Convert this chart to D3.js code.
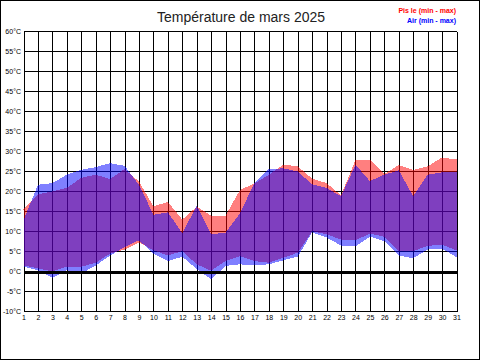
<!DOCTYPE html>
<html><head><meta charset="utf-8">
<script src="https://cdn.jsdelivr.net/npm/d3@7/dist/d3.min.js"></script>
<style>body{margin:0;background:#fff}svg{display:block}</style>
</head><body><svg id="c" width="480" height="360"></svg>
<script>
const days = d3.range(1, 32);
const poolMax = [15.5,19.3,20.0,20.9,23.4,24.2,23.1,25.6,22.5,16.3,17.4,13.0,16.2,14.0,14.0,20.4,22.0,24.2,26.7,26.3,23.2,22.1,19.0,27.9,27.9,24.4,26.6,25.4,26.3,28.5,28.0];
const poolMin = [1.5,0.8,0.0,1.2,1.2,2.2,4.5,5.5,7.3,5.3,4.0,5.1,1.8,0.2,2.6,3.8,2.6,2.2,3.4,4.7,10.1,9.3,8.0,7.8,9.5,8.7,5.1,5.1,6.4,6.7,5.3];
const airMax = [12.8,21.7,22.1,24.2,25.4,26.1,27.1,26.4,21.7,14.2,14.8,9.6,16.4,9.3,9.7,14.5,22.2,25.6,25.8,25.0,21.8,20.9,18.8,26.7,22.6,24.2,25.3,18.8,24.2,24.8,25.0];
const airMin = [1.2,0.3,-1.6,0.3,-0.5,1.5,4.0,6.1,7.8,4.5,2.6,3.7,0.6,-1.9,1.4,1.8,1.5,1.8,2.8,3.7,9.8,8.5,6.5,6.3,8.7,7.6,4.0,3.3,5.5,5.7,3.6];
const yTicks = d3.range(-10, 61, 5);
const titleText = "Température de mars 2025";
const legendLabels = ["Pis le (min - max)", "Air (min - max)"];
const legendColors = ["#ff0000", "#0000ff"];

const svg = d3.select("#c");
const x = d3.scaleLinear().domain([1, 31]).range([23.5, 456.5]);
const y = d3.scaleLinear().domain([-10, 60]).range([311.5, 31.5]);

svg.append("rect").attr("x",0.5).attr("y",0.5).attr("width",479).attr("height",359)
  .attr("fill","#fff").attr("stroke","#000");

// grid
const g = svg.append("g").attr("shape-rendering","crispEdges").attr("stroke","#000");
g.selectAll("line.h").data(yTicks).join("line").attr("class","h")
  .attr("x1", x(1)).attr("x2", x(31)).attr("y1", d=>y(d)).attr("y2", d=>y(d));
g.selectAll("line.v").data(days).join("line").attr("class","v")
  .attr("x1", d=>Math.round(x(d))+0.5).attr("x2", d=>Math.round(x(d))+0.5)
  .attr("y1", y(60)).attr("y2", y(-10));

// areas
const mk = (mx, mn) => days.map((d,i)=>({day:d, max:mx[i], min:mn[i]}));
const area = d3.area().x(d=>x(d.day)).y0(d=>y(d.min)).y1(d=>y(d.max));
svg.append("path").datum(mk(poolMax, poolMin)).attr("d", area)
  .attr("fill","#ff0000").attr("fill-opacity",0.5).attr("shape-rendering","crispEdges");
svg.append("path").datum(mk(airMax, airMin)).attr("d", area)
  .attr("fill","#0000ff").attr("fill-opacity",0.5).attr("shape-rendering","crispEdges");

// zero line
svg.append("line").attr("x1", x(1)).attr("x2", x(31)).attr("y1", y(0)+0.5).attr("y2", y(0)+0.5)
  .attr("stroke","#000").attr("stroke-width",3).attr("shape-rendering","crispEdges");

// axes labels
const ya = svg.append("g").attr("transform","translate(21,0)")
  .call(d3.axisLeft(y).tickValues(yTicks).tickFormat(d=>d+"°C").tickSize(0).tickPadding(0));
ya.select(".domain").remove();
ya.selectAll("text").attr("font-family","Liberation Sans, Arial, sans-serif").attr("font-size",7).attr("fill","#000");

const xa = svg.append("g").attr("transform","translate(0,313)")
  .call(d3.axisBottom(x).tickValues(days).tickFormat(d=>d).tickSize(0).tickPadding(2));
xa.select(".domain").remove();
xa.selectAll("text").attr("font-family","Liberation Sans, Arial, sans-serif").attr("font-size",7).attr("fill","#000");

// title
svg.append("text").attr("x",241).attr("y",21.5).attr("text-anchor","middle")
  .attr("font-family","Liberation Sans, Arial, sans-serif").attr("font-size",14).attr("fill","#222")
  .text(titleText);

// legend
svg.selectAll("text.leg").data(legendLabels).join("text").attr("class","leg")
  .attr("x",456).attr("y",(d,i)=>13+i*10).attr("text-anchor","end")
  .attr("font-family","Liberation Sans, Arial, sans-serif").attr("font-size",7).attr("font-weight","bold")
  .attr("fill",(d,i)=>legendColors[i]).text(d=>d);
</script></body></html>
